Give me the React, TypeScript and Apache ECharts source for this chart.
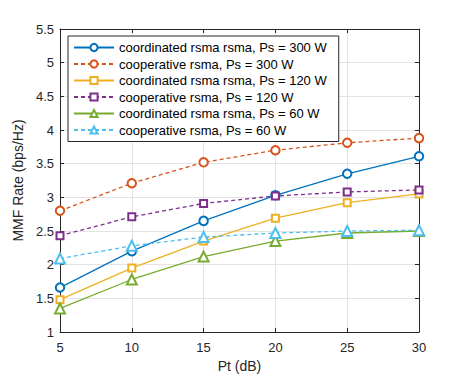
import React, { useEffect, useRef } from "react";
import * as echarts from "echarts";

const pt = [5, 10, 15, 20, 25, 30];
const coord300 = [1.66, 2.2, 2.65, 3.03, 3.35, 3.61];
const coop300 = [2.8, 3.21, 3.52, 3.7, 3.81, 3.88];
const coord120 = [1.48, 1.95, 2.35, 2.69, 2.92, 3.05];
const coop120 = [2.43, 2.71, 2.91, 3.02, 3.08, 3.11];
const coord60 = [1.35, 1.78, 2.12, 2.35, 2.47, 2.5];
const coop60 = [2.09, 2.28, 2.41, 2.47, 2.5, 2.51];

const seriesDefs = [
  { name: "coordinated rsma rsma, Ps = 300 W", data: coord300, color: "#0072BD", dashed: false, symbol: "emptyCircle", size: 8.5 },
  { name: "cooperative rsma, Ps = 300 W", data: coop300, color: "#D95319", dashed: true, symbol: "emptyCircle", size: 8.5 },
  { name: "coordinated rsma rsma, Ps = 120 W", data: coord120, color: "#EDB120", dashed: false, symbol: "emptyRect", size: 7 },
  { name: "cooperative rsma, Ps = 120 W", data: coop120, color: "#7E2F8E", dashed: true, symbol: "emptyRect", size: 7 },
  { name: "coordinated rsma rsma, Ps = 60 W", data: coord60, color: "#77AC30", dashed: false, symbol: "emptyTriangle", size: 10 },
  { name: "cooperative rsma, Ps = 60 W", data: coop60, color: "#4DBEEE", dashed: true, symbol: "emptyTriangle", size: 10 },
];

const FONT = "Liberation Sans";

export default function App() {
  const ref = useRef<HTMLDivElement>(null);
  useEffect(() => {
    if (!ref.current) return;
    const chart = echarts.init(ref.current, undefined, { renderer: "svg" });
    const axisColor = "#262626";
    chart.setOption({
      animation: false,
      backgroundColor: "#ffffff",
      textStyle: { fontFamily: FONT },
      grid: { left: 60, right: 44, top: 29, bottom: 44, containLabel: false },
      legend: {
        orient: "vertical",
        left: 68,
        top: 36,
        itemWidth: 40,
        itemHeight: 9,
        itemGap: 3.5,
        padding: [5, 12, 5, 5],
        backgroundColor: "#ffffff",
        borderColor: axisColor,
        borderWidth: 1,
        textStyle: { fontFamily: FONT, fontSize: 13, color: "#000" },
        data: seriesDefs.map((s) => s.name),
      },
      xAxis: [
        {
          type: "value",
          min: 5,
          max: 30,
          interval: 5,
          name: "Pt (dB)",
          nameLocation: "middle",
          nameGap: 27,
          nameTextStyle: { fontFamily: FONT, fontSize: 14, color: "#262626" },
          axisLine: { lineStyle: { color: axisColor, width: 1 } },
          axisTick: { inside: true, length: 4, lineStyle: { color: axisColor } },
          axisLabel: { fontFamily: FONT, fontSize: 13, color: "#262626", margin: 9 },
          splitLine: { show: true, lineStyle: { color: "#e3e3e3", width: 1 } },
        },
        {
          type: "value",
          position: "top",
          min: 5,
          max: 30,
          interval: 5,
          axisLine: { show: true, lineStyle: { color: axisColor, width: 1 } },
          axisTick: { show: true, inside: true, length: 4, lineStyle: { color: axisColor } },
          axisLabel: { show: false },
          splitLine: { show: false },
        },
      ],
      yAxis: [
        {
          type: "value",
          min: 1,
          max: 5.5,
          interval: 0.5,
          name: "MMF Rate (bps/Hz)",
          nameLocation: "middle",
          nameGap: 19,
          nameTextStyle: { fontFamily: FONT, fontSize: 14, color: "#262626" },
          axisLine: { show: true, lineStyle: { color: axisColor, width: 1 } },
          axisTick: { show: true, inside: true, length: 4, lineStyle: { color: axisColor } },
          axisLabel: { fontFamily: FONT, fontSize: 13, color: "#262626", margin: 6 },
          splitLine: { show: true, lineStyle: { color: "#e3e3e3", width: 1 } },
        },
        {
          type: "value",
          position: "right",
          min: 1,
          max: 5.5,
          interval: 0.5,
          axisLine: { show: true, lineStyle: { color: axisColor, width: 1 } },
          axisTick: { show: true, inside: true, length: 4, lineStyle: { color: axisColor } },
          axisLabel: { show: false },
          splitLine: { show: false },
        },
      ],
      series: seriesDefs.map((s) => ({
        name: s.name,
        type: "line",
        xAxisIndex: 0,
        yAxisIndex: 0,
        data: pt.map((x, i) => [x, s.data[i]]),
        symbol: s.symbol,
        symbolSize: s.size,
        showAllSymbol: true,
        color: s.color,
        lineStyle: { color: s.color, width: 1.3, type: s.dashed ? [4, 3] : "solid" },
        itemStyle: { color: s.color, borderColor: s.color, borderWidth: 1 },
        emphasis: { disabled: true },
      })),
    });
    return () => chart.dispose();
  }, []);
  return (
    <div
      ref={ref}
      style={{ position: "absolute", left: 0, top: 0, width: 463, height: 378 }}
    />
  );
}
